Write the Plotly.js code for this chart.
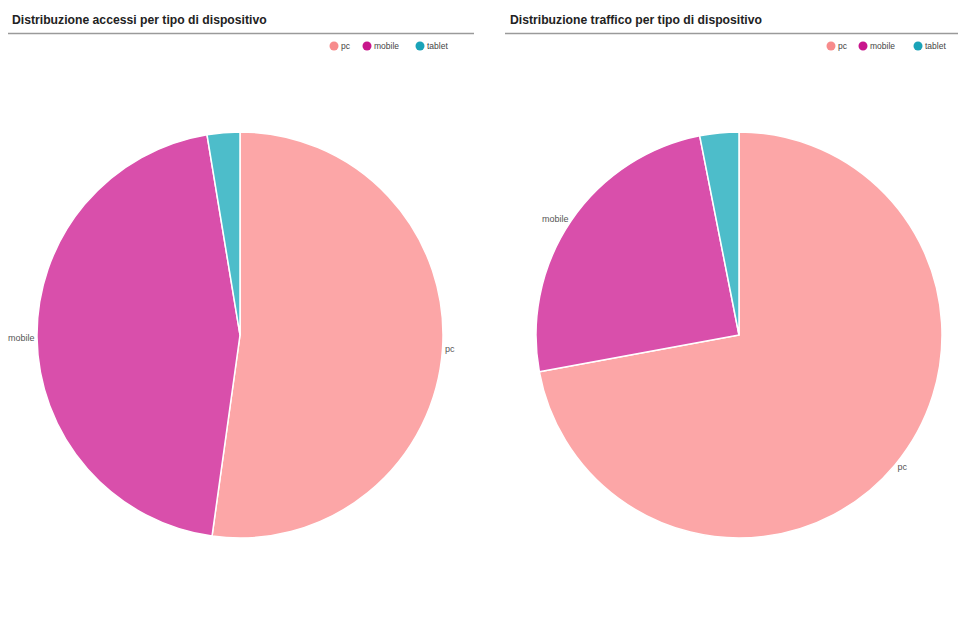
<!DOCTYPE html>
<html>
<head>
<meta charset="utf-8">
<script src="https://cdn.plot.ly/plotly-3.0.1.min.js"></script>
<style>html,body{margin:0;padding:0;background:#fff;}#chart{width:960px;height:621px;}</style>
</head>
<body>
<div id="chart"></div>
<script>
// Data
const categories = ["pc", "mobile", "tablet"];
const shownLabels = ["pc", "mobile", ""];
const accessiValues = [52.2, 45.2, 2.6];
const trafficoValues = [72.1, 24.8, 3.1];
const titles = ["Distribuzione accessi per tipo di dispositivo", "Distribuzione traffico per tipo di dispositivo"];
const sliceColors = ["#fca6a7", "#d94fab", "#4dbdca"];
const legendColors = ["#f78b8c", "#c8168c", "#1aa3b8"];

const W = 960, H = 621;
const px = v => v / W;
const py = v => 1 - v / H;

function pie(values, x0, x1) {
  return {
    type: "pie",
    labels: categories,
    values: values,
    text: shownLabels,
    sort: false,
    direction: "clockwise",
    rotation: 0,
    textinfo: "text",
    textposition: "outside",
    textfont: {family: "Liberation Sans, Arial, sans-serif", size: 9, color: "#555"},
    marker: {colors: sliceColors, line: {color: "#ffffff", width: 1.5}},
    domain: {x: [px(x0), px(x1)], y: [py(538), py(132)]},
    showlegend: false,
    hoverinfo: "label+percent"
  };
}

const data = [
  pie(accessiValues, 37, 443),
  pie(trafficoValues, 536, 942)
];

const annotations = [];
const shapes = [];

// Titles and underline
const titleX = [10, 508];
const lineX = [[8, 474], [505, 958]];
titles.forEach((t, i) => {
  annotations.push({
    text: "<b>" + t + "</b>", xref: "paper", yref: "paper",
    x: px(titleX[i]), y: py(20), xanchor: "left", yanchor: "middle",
    showarrow: false, font: {family: "Liberation Sans, Arial, sans-serif", size: 12.2, color: "#222"}
  });
  shapes.push({
    type: "line", xref: "paper", yref: "paper",
    x0: px(lineX[i][0]), x1: px(lineX[i][1]), y0: py(33.5), y1: py(33.5),
    line: {color: "#9a9a9a", width: 1.5}
  });
});

// Custom legends
const legendCircleX = [[334, 367, 420], [831, 863, 918]];
legendCircleX.forEach(row => {
  row.forEach((cx, j) => {
    const r = 4.5, cy = 46;
    shapes.push({
      type: "circle", xref: "paper", yref: "paper",
      x0: px(cx - r), x1: px(cx + r), y0: py(cy + r), y1: py(cy - r),
      fillcolor: legendColors[j], line: {width: 0}
    });
    annotations.push({
      text: categories[j], xref: "paper", yref: "paper",
      x: px(cx + 5), y: py(cy), xanchor: "left", yanchor: "middle",
      showarrow: false, font: {family: "Liberation Sans, Arial, sans-serif", size: 8.5, color: "#444"}
    });
  });
});

const layout = {
  width: W, height: H,
  margin: {l: 0, r: 0, t: 0, b: 0},
  paper_bgcolor: "#ffffff",
  plot_bgcolor: "#ffffff",
  showlegend: false,
  annotations: annotations,
  shapes: shapes
};

Plotly.newPlot("chart", data, layout, {displayModeBar: false, staticPlot: true});
</script>
</body>
</html>
